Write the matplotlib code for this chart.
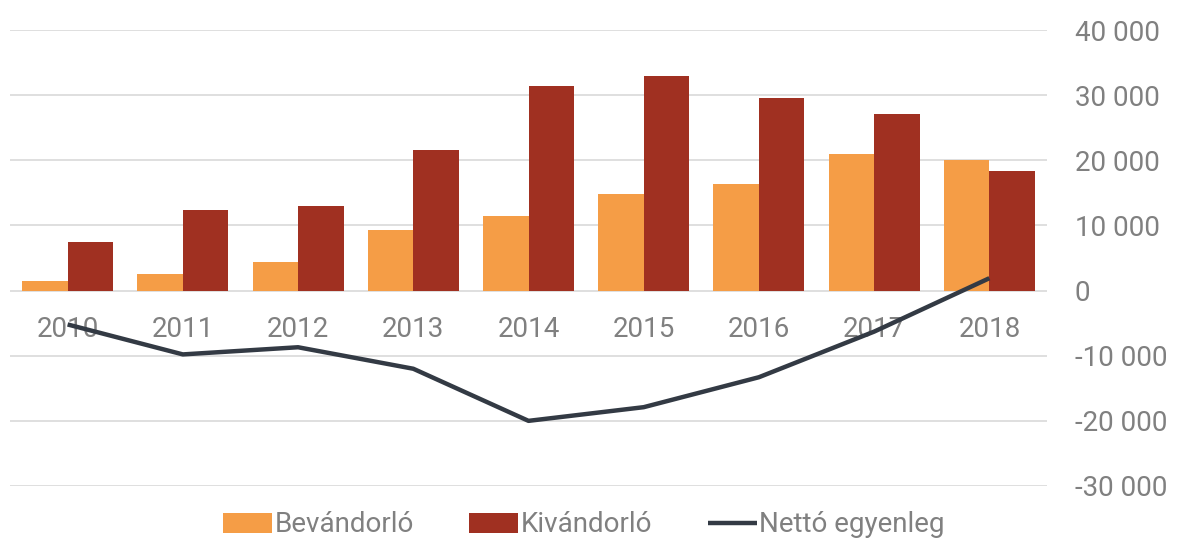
import matplotlib.pyplot as plt
import numpy as np
from matplotlib.ticker import FuncFormatter

plt.rcParams['font.family'] = ['Roboto', 'DejaVu Sans']

years = ['2010', '2011', '2012', '2013', '2014', '2015', '2016', '2017', '2018']
bevandorlo = [1500, 2600, 4400, 9300, 11500, 14900, 16400, 21000, 20100]
kivandorlo = [7500, 12400, 13000, 21600, 31400, 33000, 29600, 27100, 18300]
netto = [-5200, -9800, -8700, -12000, -20000, -17900, -13300, -6300, 1900]

c_in = '#F59D46'
c_out = '#A03021'
c_net = '#333A44'
txt = '#808080'
fs = 20

fig = plt.figure(figsize=(11.77, 5.38), dpi=100)
ax = fig.add_axes([10 / 1177, 52 / 538, 1037 / 1177, 456 / 538])

x = np.arange(len(years))
w = 0.395
b1 = ax.bar(x - w / 2, bevandorlo, width=w, color=c_in, label='Bevándorló', zorder=3)
b2 = ax.bar(x + w / 2, kivandorlo, width=w, color=c_out, label='Kivándorló', zorder=3)
l1, = ax.plot(x, netto, color=c_net, linewidth=3.2, solid_capstyle='butt', label='Nettó egyenleg', zorder=4)

ax.set_xlim(-0.5, len(years) - 0.5)
ax.set_ylim(-30000, 40000)
ax.set_yticks(range(-30000, 40001, 10000))
ax.yaxis.tick_right()
ax.yaxis.set_major_formatter(FuncFormatter(lambda v, p: f"{int(v):,}".replace(',', ' ')))
ax.tick_params(axis='y', length=0, pad=20, labelsize=fs, labelcolor=txt)
for lbl in ax.get_yticklabels():
    lbl.set_horizontalalignment('left')
ax.grid(True, axis='y', color='#D9D9D9', linewidth=1.2, zorder=0)
for s in ax.spines.values():
    s.set_visible(False)

# year labels sit just under the zero line
ax.set_xticks([])
for xi, yr in zip(x, years):
    ax.annotate(yr, (xi, 0), xytext=(0, -39), textcoords='offset pixels',
                ha='center', va='center', fontsize=fs, color=txt, zorder=2)

fig.legend([b1, b2, l1], ['Bevándorló', 'Kivándorló', 'Nettó egyenleg'],
           loc='center', bbox_to_anchor=(584 / 1177, 1 - 525 / 538), ncol=3, frameon=False,
           fontsize=fs, labelcolor=txt, handlelength=1.75, handleheight=0.7,
           handletextpad=0.1, columnspacing=2.0)

plt.savefig('out.png', dpi=100)
